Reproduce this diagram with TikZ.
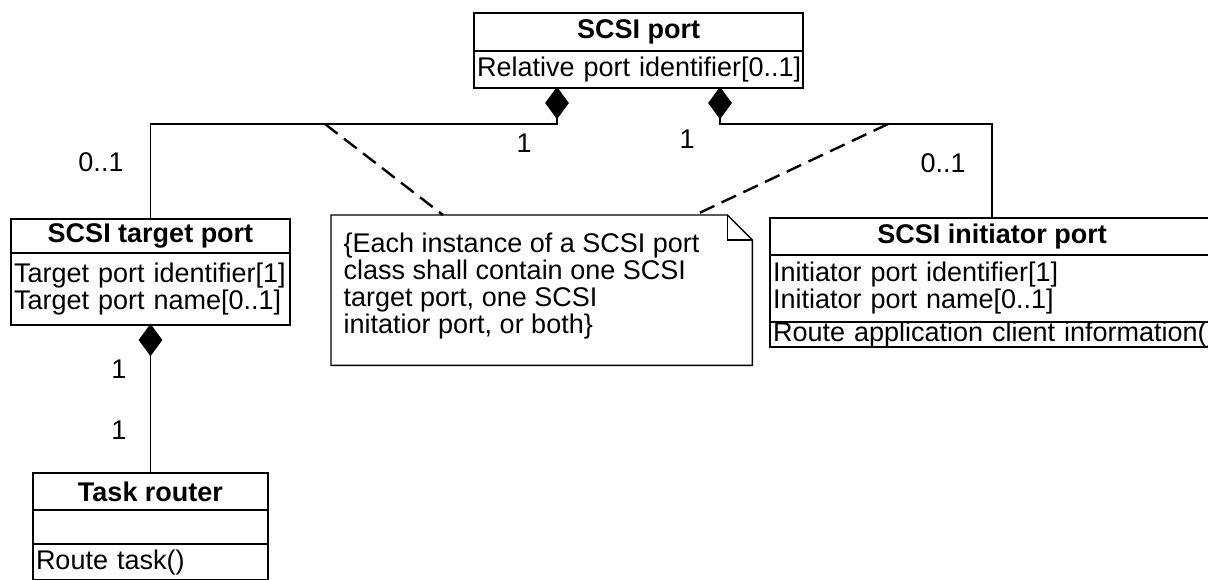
\documentclass[tikz,border=0pt]{standalone}
\usepackage{fontspec}
\setmainfont{Liberation Sans}
\usetikzlibrary{shapes.geometric,calc}
\begin{document}
\begin{tikzpicture}[x=0.5pt,y=-0.5pt,line width=0.7pt,
  every node/.style={font=\fontsize{13.5}{13.5}\selectfont},
  comp/.style={draw,anchor=north west,inner sep=0pt,outer sep=0pt},
  attr/.style={comp,align=left,inner xsep=1.5pt,text width=#1},
  comp diamond/.style={diamond,fill=black,draw=black,inner sep=0pt,outer sep=0pt,
    minimum width=11pt,minimum height=15pt,anchor=north},
  lbl/.style={inner sep=0pt},
  notelink/.style={line width=1.2pt,dash pattern=on 8pt off 4pt}]
\useasboundingbox (0,0) rectangle (1208,579);
\clip (0,0) rectangle (1208,579);
\fill[white] (0,0) rectangle (1208,579);

% SCSI port
\node[comp,minimum width=164.5pt,minimum height=19pt] (sph) at (474,13) {\bfseries SCSI port};
\node[attr=161.5pt,minimum height=18.5pt] (spa) at (474,51) {\mbox{Relative port identifier[0..1]}};

% SCSI target port
\node[comp,minimum width=139.5pt,minimum height=17pt] (tph) at (11,219) {\bfseries SCSI target port};
\node[attr=136.5pt,minimum height=36pt] (tpa) at (11,253) {\mbox{Target port identifier[1]}\\\mbox{Target port name[0..1]}};

% Task router
\node[comp,minimum width=117.5pt,minimum height=18.5pt] (trh) at (33,473) {\bfseries Task router};
\node[comp,minimum width=117.5pt,minimum height=17pt] (tra) at (33,510) {};
\node[attr=114.5pt,minimum height=18pt] (tro) at (33,544) {\mbox{Route task()}};

% SCSI initiator port
\node[comp,minimum width=222pt,minimum height=18.5pt] (iph) at (770,218) {\bfseries SCSI initiator port};
\node[attr=219pt,minimum height=33.5pt] (ipa) at (770,255) {\mbox{Initiator port identifier[1]}\\\mbox{Initiator port name[0..1]}};
\node[attr=219pt,minimum height=9.5pt] (ipo) at (770,322) {\mbox{Route application client information()}};

% Note
\node[anchor=north west,inner sep=0pt,minimum width=210pt,minimum height=74.5pt] (note) at (331,215) {};
\draw ($(note.north east)+(-25,0)$) coordinate (fa) -- (note.north west) -- (note.south west)
  -- (note.south east) -- ($(note.north east)+(0,25)$) coordinate (fb) -- cycle;
\draw (fa) -- (fa |- fb) -- (fb);
\node[anchor=north west,inner sep=0pt,align=left] (notetext) at (343,232)
  {\{Each instance of a SCSI port\\class shall contain one SCSI\\target port, one SCSI\\initatior port, or both\}};

% Composition diamonds
\node[comp diamond] (d1) at (spa.south -| 557,0) {};
\node[comp diamond] (d2) at (spa.south -| 720,0) {};
\node[comp diamond] (d3) at (tpa.south) {};

% Connectors
\draw (d1.south) -- ++(0,6) coordinate (j1) -| (tph.north);
\draw (d2.south) -- ++(0,6) coordinate (j2) -| (iph.north);
\draw (d3.south) -- (trh.north);

% Note links
\coordinate (c1) at (j1 -| 325,0);
\coordinate (c2) at (j2 -| 888,0);
\draw[notelink] (c1) -- ($(note.north west)+(112,0)$);
\draw[notelink] (c2) -- ($(note.north west)+(364,0)$);

% Multiplicities
\node[lbl] (m1) at (101,162) {0..1};
\node[lbl] (m2) at (524,143) {1};
\node[lbl] (m3) at (687,139) {1};
\node[lbl] (m4) at (943,163) {0..1};
\node[lbl] (m5) at (119,369) {1};
\node[lbl] (m6) at (119,430) {1};
\end{tikzpicture}
\end{document}
